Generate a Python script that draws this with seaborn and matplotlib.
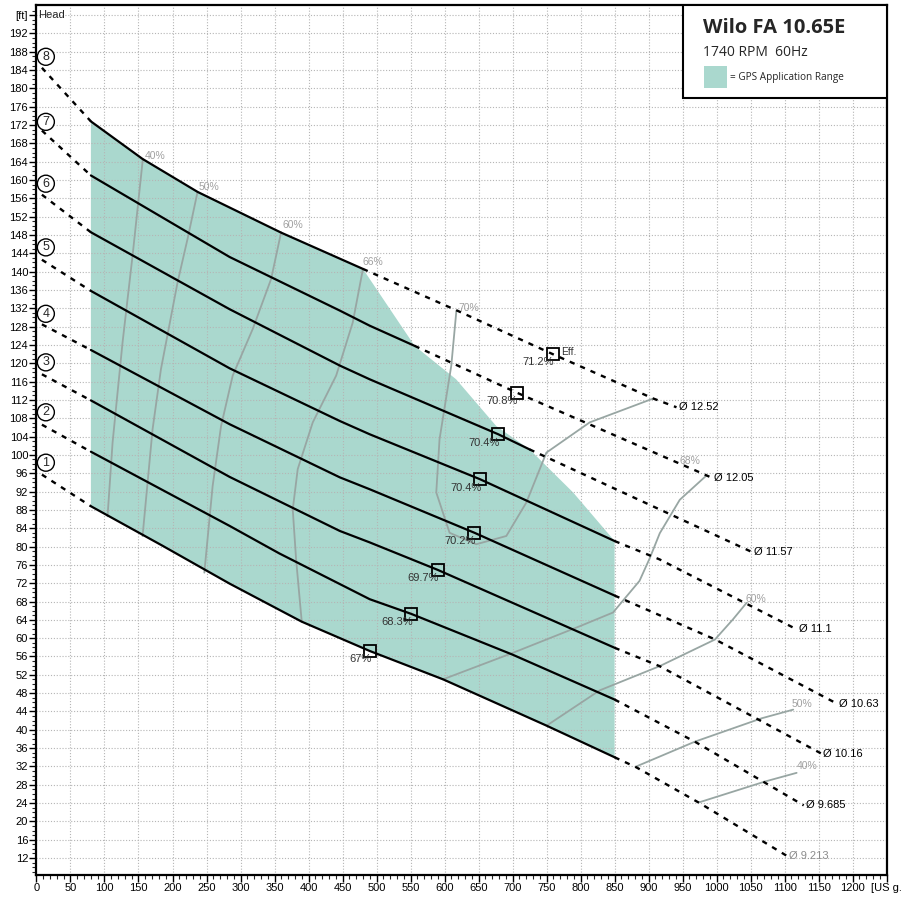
import matplotlib
matplotlib.use("Agg")
import matplotlib.pyplot as plt
import matplotlib.patches as mpatches
import seaborn as sns
import numpy as np

# impeller curves: flow [US gpm], head [ft]
# (first point = start of dashed part, solid part from q=80 up to idx end)
d1252_q = [8, 80, 156, 237, 360, 480, 620, 759, 907, 941]
d1252_h = [184.5, 172.8, 164.6, 157.4, 148.5, 140.6, 131.4, 122.0, 112.3, 110.4]
d1205_q = [8, 80, 284, 446, 490, 556, 706, 975, 993]
d1205_h = [170.8, 161.0, 143.2, 131.5, 128.2, 123.8, 113.6, 96.2, 95.0]
d1157_q = [8, 80, 284, 446, 490, 679, 725, 1052]
d1157_h = [156.8, 148.6, 131.8, 119.5, 116.5, 104.5, 101.2, 78.8]
d1110_q = [8, 80, 284, 446, 490, 652, 850, 916, 1044, 1118]
d1110_h = [142.6, 135.8, 118.9, 107.4, 104.5, 94.7, 81.2, 77.2, 67.5, 61.9]
d1063_q = [8, 80, 284, 446, 490, 644, 850, 998, 1177]
d1063_h = [128.5, 122.9, 106.7, 95.1, 92.5, 83.0, 69.3, 59.7, 45.7]
d1016_q = [8, 80, 284, 446, 490, 590, 850, 916, 1154]
d1016_h = [117.6, 111.9, 95.2, 83.4, 80.9, 74.9, 57.9, 53.9, 34.8]
d9685_q = [8, 80, 284, 357, 490, 551, 700, 850, 968, 1128]
d9685_h = [106.6, 100.7, 84.5, 78.5, 68.5, 65.3, 56.4, 46.6, 37.4, 23.5]
d9213_q = [8, 80, 185, 284, 390, 490, 598, 750, 850, 882, 975, 1103]
d9213_h = [95.7, 88.8, 80.2, 71.9, 63.6, 57.2, 51.0, 40.9, 34.0, 31.8, 24.0, 12.5]

diam_labels = ['Ø 12.52', 'Ø 12.05', 'Ø 11.57', 'Ø 11.1', 'Ø 10.63', 'Ø 10.16', 'Ø 9.685', 'Ø 9.213']
curve_nums = ['8', '7', '6', '5', '4', '3', '2', '1']
num_h = [186.9, 172.7, 159.2, 145.3, 130.8, 120.2, 109.3, 98.3]
solid_end = [5, 5, 6, 6, 6, 6, 7, 8]   # index where solid part ends

# GPS application range upper-right border
range_q = [480, 556, 617, 676, 725, 789, 850]
range_h = [140.6, 123.8, 116.5, 106.3, 101.2, 91.8, 81.2]

# best efficiency points
bep_q = [490, 551, 590, 644, 652, 679, 706, 759]
bep_h = [57.2, 65.3, 74.9, 83.0, 94.7, 104.5, 113.6, 122.0]
bep_lbl = ['67%', '68.3%', '69.7%', '70.2%', '70.4%', '70.4%', '70.8%', '71.2%']

# iso-efficiency lines
e40a_q = [156.4, 141.3, 126.6, 111.9, 104.5]
e40a_h = [164.6, 143.5, 124.6, 102.7, 86.6]
e50a_q = [236.8, 222.2, 207.5, 183, 170.7, 156]
e50a_h = [157.4, 147.2, 137.7, 118.7, 105.6, 82.3]
e60a_q = [359.7, 345, 318, 288.5, 271.4, 259, 246.8]
e60a_h = [148.6, 138.4, 127.5, 117.3, 106.3, 93.2, 74.3]
e66_q = [480, 465, 440.6, 406.2, 384.1, 376.8, 381.7, 390]
e66_h = [140.6, 128.9, 117.3, 107.1, 96.9, 88.1, 77.2, 63.6]
e70_q = [617.4, 609.9, 592.6, 587.8, 607.4, 646.6, 690.8, 720.2, 749.7, 813.4, 906.6]
e70_h = [131.5, 119.5, 103.4, 91.8, 83.0, 80.5, 82.3, 89.6, 100.5, 107.1, 112.3]
e68_q = [597.5, 700.5, 798.7, 847.7, 886.6, 901.8, 916.4, 945.8, 985]
e68_h = [51.0, 56.8, 62.6, 65.6, 72.5, 77.5, 82.9, 90.2, 95.5]
e60b_q = [750, 828, 916.4, 997.5, 1024, 1044]
e60b_h = [40.9, 48.6, 53.9, 59.7, 64.1, 67.7]
e50b_q = [882, 967.9, 1066, 1112.6]
e50b_h = [32.0, 37.4, 42.5, 44.4]
e40b_q = [975.1, 1071, 1117.6]
e40b_h = [24.2, 28.7, 30.6]

eff_text = ['40%', '50%', '60%', '66%', '70%', '68%', '60%', '50%', '40%']
eff_text_q = [159, 239, 361, 480, 620, 946, 1043, 1110, 1118]
eff_text_h = [165.2, 158.5, 150.2, 142.0, 132.0, 98.6, 68.5, 45.7, 32.0]

sns.set_theme(style='white')
plt.rcParams['font.family'] = ['Liberation Sans', 'DejaVu Sans']

fig = plt.figure(figsize=(9.14, 8.98), dpi=100)
ax = fig.add_axes([0.0399, 0.0256, 0.9302, 0.9688])

green = '#aad8ce'
eff_col = '#98a6a3'

curves_q = [d1252_q, d1205_q, d1157_q, d1110_q, d1063_q, d1016_q, d9685_q, d9213_q]
curves_h = [d1252_h, d1205_h, d1157_h, d1110_h, d1063_h, d1016_h, d9685_h, d9213_h]

# green application range polygon
top_q, top_h = d1252_q[1:6], d1252_h[1:6]
bot_q, bot_h = d9213_q[1:9], d9213_h[1:9]
poly_q = top_q + range_q[1:] + bot_q[::-1]
poly_h = top_h + range_h[1:] + bot_h[::-1]
ax.fill(poly_q, poly_h, color=green, lw=0, zorder=0.3)

# iso-efficiency lines
for q, h in [(e40a_q, e40a_h), (e50a_q, e50a_h), (e60a_q, e60a_h), (e66_q, e66_h),
             (e70_q, e70_h), (e68_q, e68_h), (e60b_q, e60b_h), (e50b_q, e50b_h),
             (e40b_q, e40b_h)]:
    sns.lineplot(x=q, y=h, ax=ax, color=eff_col, lw=1.3, sort=False,
                 estimator=None, zorder=2)
for t, q, h in zip(eff_text, eff_text_q, eff_text_h):
    ax.text(q, h, t, fontsize=7.5, color='#a0a0a0', ha='left', va='center', zorder=3)

# pump curves: dashed full curve, solid inside application range
for i in range(8):
    q, h = curves_q[i], curves_h[i]
    e = solid_end[i]
    sns.lineplot(x=q[:2], y=h[:2], ax=ax, color='black', lw=1.7,
                 linestyle=(0, (2.2, 2.6)), sort=False, estimator=None, zorder=3)
    sns.lineplot(x=q[e:], y=h[e:], ax=ax, color='black', lw=1.7,
                 linestyle=(0, (2.2, 2.6)), sort=False, estimator=None, zorder=3)
    sns.lineplot(x=q[1:e + 1], y=h[1:e + 1], ax=ax, color='black', lw=1.6,
                 sort=False, estimator=None, zorder=3)
    lab_col = '#8c8c8c' if i == 7 else 'black'
    ax.text(q[-1] + 3, h[-1], diam_labels[i], fontsize=8, color=lab_col,
            ha='left', va='center', zorder=4)
    ax.text(13.8, num_h[i], curve_nums[i], fontsize=9, ha='center', va='center',
            zorder=4, bbox=dict(boxstyle='circle,pad=0.2', fc='white', ec='black', lw=1))

# best efficiency points
sns.lineplot(x=bep_q, y=bep_h, ax=ax, marker='s', linestyle='none', ms=8,
             mfc='none', mec='black', mew=1.3, sort=False, estimator=None, zorder=5)
for q, h, t in zip(bep_q, bep_h, bep_lbl):
    ax.annotate(t, (q, h), xytext=(1, -6), textcoords='offset points',
                fontsize=8, color='#333333', ha='right', va='center', zorder=5)
ax.annotate('Eff.', (bep_q[-1], bep_h[-1]), xytext=(6, 1.5), textcoords='offset points',
            fontsize=7.5, color='#333333', ha='left', va='center', zorder=5)

# axes, ticks, grid
ax.set_xlim(0, 1250)
ax.set_ylim(8.3, 198.2)
xt = list(range(0, 1201, 50)) + [1250]
ax.set_xticks(xt)
ax.set_xticklabels([str(v) for v in xt[:-1]] + ['[US g.'])
yt = list(range(12, 196, 4)) + [196]
ax.set_yticks(yt)
ax.set_yticklabels([str(v) for v in yt[:-1]] + ['[ft]'])
ax.set_xticks(np.arange(0, 1251, 10), minor=True)
ax.set_yticks(np.arange(9, 198, 1), minor=True)
ax.tick_params(which='major', direction='out', length=5, width=1, labelsize=8, pad=1,
               left=True, bottom=True, colors='black')
ax.tick_params(which='minor', direction='out', length=3, width=0.8, left=True, bottom=True)
ax.grid(True, which='major', color='#b5b5b5', linestyle=(0, (1, 1.6)), lw=0.8)
ax.set_axisbelow(True)
for s in ax.spines.values():
    s.set_color('black')
    s.set_linewidth(1.6)
ax.set_xlabel('')
ax.set_ylabel('')
ax.text(3, 196, 'Head', fontsize=8, ha='left', va='center')

# title box
ax.add_patch(mpatches.Rectangle((950, 177.9), 300, 20.3, fc='white', ec='black',
                                lw=1.5, zorder=6))
ax.text(980, 193.1, 'Wilo FA 10.65E', fontsize=14.5, fontweight='bold',
        family=['Open Sans', 'DejaVu Sans'], ha='left', va='center', zorder=7)
ax.text(980, 187.9, '1740 RPM  60Hz', fontsize=10, family=['Open Sans', 'DejaVu Sans'],
        ha='left', va='center', zorder=7)
ax.add_patch(mpatches.Rectangle((981, 180.1), 34, 4.8, fc=green, ec='none', zorder=7))
ax.text(1020, 182.4, '= GPS Application Range', fontsize=7.2,
        family=['Open Sans', 'DejaVu Sans'], ha='left', va='center', zorder=7)

fig.savefig('out.png', dpi=100)
